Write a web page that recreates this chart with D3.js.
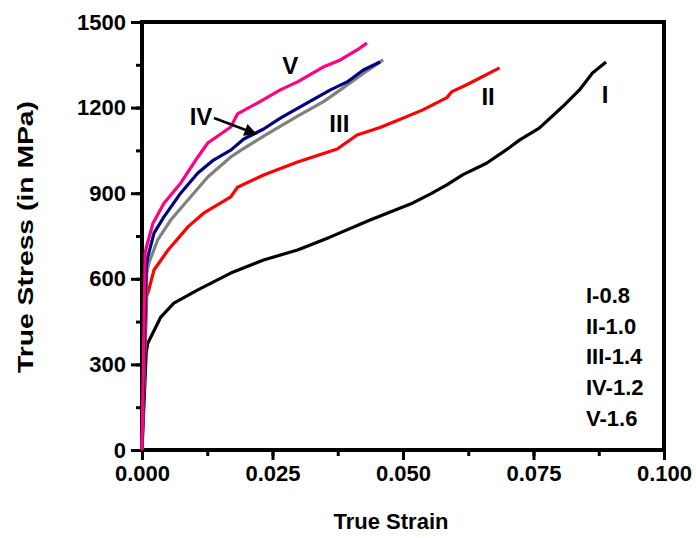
<!DOCTYPE html>
<html><head><meta charset="utf-8">
<script src="https://cdn.jsdelivr.net/npm/d3@7"></script>
<style>body{margin:0;background:#fff}svg{display:block}text{font-family:Arial,'Liberation Sans',sans-serif;font-weight:bold}</style>
</head><body>
<script>
const seriesI = [[0,0],[0.0008,340],[0.0011,374],[0.0017,396],[0.0036,466],[0.0061,515],[0.0107,561],[0.017,620],[0.0233,666],[0.0298,701],[0.036,746],[0.0437,806],[0.0519,866],[0.0552,897],[0.0584,929],[0.0615,965],[0.066,1005],[0.0704,1060],[0.0723,1086],[0.0761,1128],[0.0805,1202],[0.0838,1262],[0.0863,1321],[0.0889,1360]];
const seriesII = [[0,0],[0.0009,540],[0.0013,561],[0.0023,631],[0.005,701],[0.0088,782],[0.0118,830],[0.017,887],[0.0183,921],[0.0233,964],[0.0298,1009],[0.0374,1055],[0.0412,1104],[0.0456,1130],[0.0489,1155],[0.0538,1192],[0.0584,1235],[0.0593,1255],[0.0622,1280],[0.0685,1339]];
const seriesIII = [[0,0],[0.0009,620],[0.0013,655],[0.003,736],[0.0055,806],[0.0088,876],[0.0126,957],[0.017,1027],[0.0189,1050],[0.0233,1100],[0.0298,1170],[0.0347,1220],[0.038,1262],[0.0424,1320],[0.0462,1367]];
const seriesIV = [[0,0],[0.0008,640],[0.0011,676],[0.0023,760],[0.0042,817],[0.0074,900],[0.0107,971],[0.0137,1016],[0.017,1051],[0.0195,1090],[0.0233,1125],[0.0265,1163],[0.0309,1209],[0.0361,1262],[0.0393,1290],[0.0424,1332],[0.0456,1360]];
const seriesV = [[0,0],[0.0006,690],[0.0008,708],[0.0021,795],[0.0042,865],[0.0074,935],[0.0107,1027],[0.0126,1076],[0.017,1132],[0.0183,1178],[0.0221,1216],[0.0265,1262],[0.0298,1290],[0.0347,1342],[0.038,1367],[0.0412,1402],[0.0431,1426]];
const seriesColors = ["#000000","#ff0000","#808080","#000080","#ff0080"];
const curveLabels = [["I",0.0887,1240],["II",0.0663,1232],["III",0.0378,1136],["IV",0.0113,1160],["V",0.0284,1340]];
const legendLines = ["I-0.8","II-1.0","III-1.4","IV-1.2","V-1.6"];
const xTicks = [0,0.025,0.05,0.075,0.1];
const yTicks = [0,300,600,900,1200,1500];

const W=696,H=538;
const svg=d3.select("body").append("svg").attr("width",W).attr("height",H);
const x=d3.scaleLinear().domain([0,0.1]).range([142,664]);
const y=d3.scaleLinear().domain([0,1500]).range([450,22]);

const xMinor=d3.range(0,0.1001,0.0125), yMinor=d3.range(0,1501,150);
const gx=svg.append("g").attr("transform","translate(0,450)");
gx.call(d3.axisBottom(x).tickValues(xMinor).tickSize(6).tickFormat(""));
gx.append("g").call(d3.axisBottom(x).tickValues(xTicks).tickSize(10).tickPadding(5).tickFormat(d3.format(".3f")));
const gy=svg.append("g").attr("transform","translate(142,0)");
gy.call(d3.axisLeft(y).tickValues(yMinor).tickSize(6).tickFormat(""));
gy.append("g").call(d3.axisLeft(y).tickValues(yTicks).tickSize(11).tickPadding(5).tickFormat(d3.format("d")));
svg.selectAll(".domain").remove();
svg.selectAll(".tick line").attr("stroke","#000").attr("stroke-width",3);
svg.selectAll(".tick text").attr("font-size",22).attr("fill","#000");
svg.append("rect").attr("x",142).attr("y",22).attr("width",522).attr("height",428).attr("fill","none").attr("stroke","#000").attr("stroke-width",4);

const line=d3.line().x(d=>x(d[0])).y(d=>y(d[1]));
[seriesI,seriesII,seriesIII,seriesIV,seriesV].forEach((s,i)=>{
  svg.append("path").datum(s).attr("d",line).attr("fill","none").attr("stroke",seriesColors[i]).attr("stroke-width",3.2).attr("stroke-linejoin","round");
});

curveLabels.forEach(l=>{
  svg.append("text").attr("x",x(l[1])).attr("y",y(l[2])).attr("text-anchor","middle").attr("dominant-baseline","middle").attr("font-size",24).text(l[0]);
});
svg.append("defs").append("marker").attr("id","ah").attr("viewBox","0 0 10 10").attr("refX",9).attr("refY",5)
  .attr("markerWidth",7).attr("markerHeight",5).attr("orient","auto")
  .append("path").attr("d","M0,0L10,5L0,10z").attr("fill","#000");
svg.append("line").attr("x1",214).attr("y1",118).attr("x2",x(0.0218)).attr("y2",y(1108)).attr("stroke","#000").attr("stroke-width",2.5).attr("marker-end","url(#ah)");

legendLines.forEach((t,i)=>{
  svg.append("text").attr("x",586).attr("y",297+i*30.7).attr("dominant-baseline","middle").attr("font-size",22).text(t);
});

svg.append("text").attr("x",391).attr("y",523).attr("text-anchor","middle").attr("dominant-baseline","middle").attr("font-size",22).text("True Strain");
svg.append("text").attr("transform","translate(27,237) rotate(-90)").attr("text-anchor","middle").attr("dominant-baseline","middle").attr("font-size",22)
  .attr("textLength",272).attr("lengthAdjust","spacingAndGlyphs").text("True Stress (in MPa)");
</script>
</body></html>
